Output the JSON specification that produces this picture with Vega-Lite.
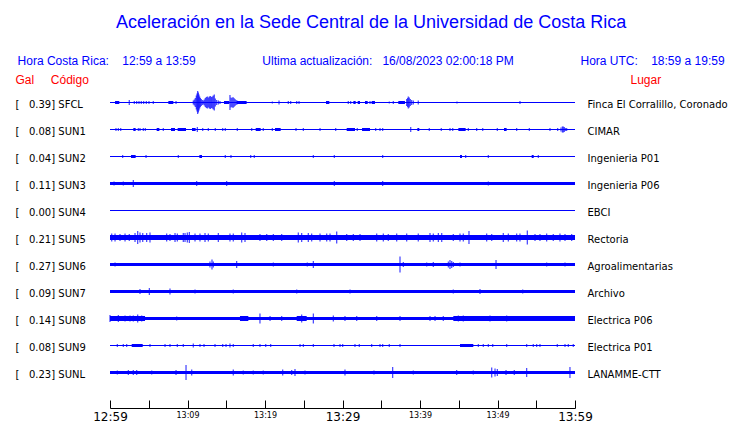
{
  "$schema": "https://vega.github.io/schema/vega-lite/v6.json",
  "width": 465,
  "height": 297,
  "padding": {"left": 15, "top": 14, "right": 5, "bottom": 5},
  "background": "white",
  "title": {
    "text": "Aceleración en la Sede Central de la Universidad de Costa Rica",
    "subtitle": "Hora Costa Rica:\u00a0\u00a0\u00a0\u00a012:59 a 13:59\u00a0\u00a0\u00a0\u00a0\u00a0\u00a0\u00a0\u00a0\u00a0\u00a0\u00a0\u00a0\u00a0\u00a0\u00a0\u00a0\u00a0\u00a0\u00a0\u00a0Ultima actualización:\u00a0\u00a0\u00a016/08/2023 02:00:18 PM\u00a0\u00a0\u00a0\u00a0\u00a0\u00a0\u00a0\u00a0\u00a0\u00a0\u00a0\u00a0\u00a0\u00a0\u00a0\u00a0\u00a0\u00a0\u00a0\u00a0Hora UTC:\u00a0\u00a0\u00a0\u00a018:59 a 19:59\u00a0\u00a0\u00a0\u00a0",
    "anchor": "middle",
    "frame": "bounds",
    "font": "Liberation Sans",
    "fontSize": 18,
    "fontWeight": "normal",
    "color": "#0000ff",
    "subtitleFont": "Liberation Sans",
    "subtitleFontSize": 12,
    "subtitleColor": "#0000ff",
    "subtitlePadding": 24,
    "offset": 6
  },
  "datasets": {
    "stations": [
      {"code": "SFCL", "label": "[\u00a0\u00a0\u00a00.39] SFCL", "lugar": "Finca El Corralillo, Coronado", "w": 1},
      {"code": "SUN1", "label": "[\u00a0\u00a0\u00a00.08] SUN1", "lugar": "CIMAR", "w": 1},
      {"code": "SUN2", "label": "[\u00a0\u00a0\u00a00.04] SUN2", "lugar": "Ingenieria P01", "w": 1},
      {"code": "SUN3", "label": "[\u00a0\u00a0\u00a00.11] SUN3", "lugar": "Ingenieria P06", "w": 3},
      {"code": "SUN4", "label": "[\u00a0\u00a0\u00a00.00] SUN4", "lugar": "EBCI", "w": 1},
      {"code": "SUN5", "label": "[\u00a0\u00a0\u00a00.21] SUN5", "lugar": "Rectoria", "w": 5},
      {"code": "SUN6", "label": "[\u00a0\u00a0\u00a00.27] SUN6", "lugar": "Agroalimentarias", "w": 3},
      {"code": "SUN7", "label": "[\u00a0\u00a0\u00a00.09] SUN7", "lugar": "Archivo", "w": 3},
      {"code": "SUN8", "label": "[\u00a0\u00a0\u00a00.14] SUN8", "lugar": "Electrica P06", "w": 3},
      {"code": "SUN9", "label": "[\u00a0\u00a0\u00a00.08] SUN9", "lugar": "Electrica P01", "w": 1},
      {"code": "SUNL", "label": "[\u00a0\u00a0\u00a00.23] SUNL", "lugar": "LANAMME-CTT", "w": 3}
    ],
    "segs": [
      {"code": "SFCL", "t0": 0.65, "t1": 1.2, "w": 3},
      {"code": "SFCL", "t0": 7.53, "t1": 8.17, "w": 3},
      {"code": "SFCL", "t0": 14.71, "t1": 15.4, "w": 3},
      {"code": "SFCL", "t0": 16.34, "t1": 17.63, "w": 3},
      {"code": "SFCL", "t0": 27.87, "t1": 28.3, "w": 3},
      {"code": "SFCL", "t0": 31.4, "t1": 31.7, "w": 3},
      {"code": "SFCL", "t0": 31.96, "t1": 32.26, "w": 3},
      {"code": "SFCL", "t0": 32.9, "t1": 33.25, "w": 3},
      {"code": "SFCL", "t0": 33.76, "t1": 34.19, "w": 3},
      {"code": "SFCL", "t0": 37.2, "t1": 38.06, "w": 3},
      {"code": "SUN1", "t0": 3.01, "t1": 3.31, "w": 3},
      {"code": "SUN1", "t0": 6.02, "t1": 6.37, "w": 3},
      {"code": "SUN1", "t0": 7.87, "t1": 8.39, "w": 3},
      {"code": "SUN1", "t0": 8.73, "t1": 9.81, "w": 3},
      {"code": "SUN1", "t0": 10.58, "t1": 11.05, "w": 3},
      {"code": "SUN1", "t0": 18.8, "t1": 19.44, "w": 3},
      {"code": "SUN1", "t0": 21.29, "t1": 22.02, "w": 3},
      {"code": "SUN1", "t0": 30.54, "t1": 31.61, "w": 3},
      {"code": "SUN1", "t0": 32.52, "t1": 33.55, "w": 3},
      {"code": "SUN1", "t0": 39.66, "t1": 39.91, "w": 3},
      {"code": "SUN1", "t0": 44.95, "t1": 45.89, "w": 3},
      {"code": "SUN1", "t0": 50.84, "t1": 51.18, "w": 3},
      {"code": "SUN2", "t0": 2.71, "t1": 3.31, "w": 3},
      {"code": "SUN2", "t0": 11.53, "t1": 11.87, "w": 3},
      {"code": "SUN2", "t0": 45.16, "t1": 45.42, "w": 3},
      {"code": "SUN2", "t0": 54.41, "t1": 54.67, "w": 3},
      {"code": "SUN8", "t0": 0, "t1": 4.52, "w": 5},
      {"code": "SUN8", "t0": 16.77, "t1": 17.85, "w": 5},
      {"code": "SUN8", "t0": 24.09, "t1": 25.38, "w": 5},
      {"code": "SUN8", "t0": 44.3, "t1": 60, "w": 5},
      {"code": "SUN9", "t0": 2.8, "t1": 4.22, "w": 3},
      {"code": "SUN9", "t0": 45.16, "t1": 46.88, "w": 3}
    ],
    "spikes": [
      {"code": "SFCL", "t": 2.49, "amp": 5}, {"code": "SFCL", "t": 3.14, "amp": 3}, {"code": "SFCL", "t": 3.44, "amp": 3}, {"code": "SFCL", "t": 3.74, "amp": 3},
      {"code": "SFCL", "t": 4.04, "amp": 3}, {"code": "SFCL", "t": 4.34, "amp": 3}, {"code": "SFCL", "t": 4.69, "amp": 3}, {"code": "SFCL", "t": 5.03, "amp": 3},
      {"code": "SFCL", "t": 5.59, "amp": 3}, {"code": "SFCL", "t": 8.52, "amp": 3},
      {"code": "SFCL", "t": 10.75, "amp": 4}, {"code": "SFCL", "t": 10.88, "amp": 6}, {"code": "SFCL", "t": 11.01, "amp": 9}, {"code": "SFCL", "t": 11.14, "amp": 14},
      {"code": "SFCL", "t": 11.23, "amp": 18}, {"code": "SFCL", "t": 11.31, "amp": 23}, {"code": "SFCL", "t": 11.4, "amp": 20}, {"code": "SFCL", "t": 11.48, "amp": 16},
      {"code": "SFCL", "t": 11.57, "amp": 12}, {"code": "SFCL", "t": 11.66, "amp": 9}, {"code": "SFCL", "t": 11.78, "amp": 7}, {"code": "SFCL", "t": 11.91, "amp": 5},
      {"code": "SFCL", "t": 12.04, "amp": 4}, {"code": "SFCL", "t": 12.17, "amp": 6}, {"code": "SFCL", "t": 12.3, "amp": 9}, {"code": "SFCL", "t": 12.43, "amp": 11},
      {"code": "SFCL", "t": 12.56, "amp": 12}, {"code": "SFCL", "t": 12.69, "amp": 10}, {"code": "SFCL", "t": 12.82, "amp": 12}, {"code": "SFCL", "t": 12.95, "amp": 13},
      {"code": "SFCL", "t": 13.08, "amp": 11}, {"code": "SFCL", "t": 13.2, "amp": 12}, {"code": "SFCL", "t": 13.33, "amp": 14}, {"code": "SFCL", "t": 13.46, "amp": 16},
      {"code": "SFCL", "t": 13.59, "amp": 8}, {"code": "SFCL", "t": 13.76, "amp": 5}, {"code": "SFCL", "t": 13.98, "amp": 4}, {"code": "SFCL", "t": 14.19, "amp": 3},
      {"code": "SFCL", "t": 15.48, "amp": 15}, {"code": "SFCL", "t": 15.61, "amp": 10}, {"code": "SFCL", "t": 15.74, "amp": 9}, {"code": "SFCL", "t": 15.87, "amp": 11},
      {"code": "SFCL", "t": 16.0, "amp": 9}, {"code": "SFCL", "t": 16.13, "amp": 7}, {"code": "SFCL", "t": 16.26, "amp": 5}, {"code": "SFCL", "t": 16.39, "amp": 4},
      {"code": "SFCL", "t": 20.95, "amp": 2}, {"code": "SFCL", "t": 21.81, "amp": 4}, {"code": "SFCL", "t": 23.01, "amp": 3}, {"code": "SFCL", "t": 23.31, "amp": 3},
      {"code": "SFCL", "t": 24.09, "amp": 3}, {"code": "SFCL", "t": 24.39, "amp": 3}, {"code": "SFCL", "t": 30.75, "amp": 3}, {"code": "SFCL", "t": 31.05, "amp": 3},
      {"code": "SFCL", "t": 33.55, "amp": 3}, {"code": "SFCL", "t": 36.04, "amp": 2}, {"code": "SFCL", "t": 36.56, "amp": 3}, {"code": "SFCL", "t": 38.28, "amp": 7},
      {"code": "SFCL", "t": 38.41, "amp": 9}, {"code": "SFCL", "t": 38.49, "amp": 12}, {"code": "SFCL", "t": 38.62, "amp": 10}, {"code": "SFCL", "t": 38.75, "amp": 7},
      {"code": "SFCL", "t": 38.92, "amp": 5}, {"code": "SFCL", "t": 39.14, "amp": 4}, {"code": "SFCL", "t": 39.78, "amp": 4}, {"code": "SFCL", "t": 44.77, "amp": 2},
      {"code": "SFCL", "t": 52.9, "amp": 3},
      {"code": "SUN1", "t": 0.77, "amp": 3}, {"code": "SUN1", "t": 1.08, "amp": 3}, {"code": "SUN1", "t": 1.38, "amp": 3}, {"code": "SUN1", "t": 3.66, "amp": 3},
      {"code": "SUN1", "t": 3.87, "amp": 3}, {"code": "SUN1", "t": 4.3, "amp": 3}, {"code": "SUN1", "t": 4.56, "amp": 3}, {"code": "SUN1", "t": 6.88, "amp": 3},
      {"code": "SUN1", "t": 11.27, "amp": 5}, {"code": "SUN1", "t": 11.96, "amp": 3}, {"code": "SUN1", "t": 12.69, "amp": 3}, {"code": "SUN1", "t": 13.59, "amp": 3},
      {"code": "SUN1", "t": 14.54, "amp": 3}, {"code": "SUN1", "t": 14.88, "amp": 3}, {"code": "SUN1", "t": 16.43, "amp": 3}, {"code": "SUN1", "t": 18.28, "amp": 3},
      {"code": "SUN1", "t": 19.78, "amp": 3}, {"code": "SUN1", "t": 20.95, "amp": 3}, {"code": "SUN1", "t": 24.0, "amp": 3}, {"code": "SUN1", "t": 24.95, "amp": 3},
      {"code": "SUN1", "t": 27.1, "amp": 3}, {"code": "SUN1", "t": 29.12, "amp": 3}, {"code": "SUN1", "t": 31.91, "amp": 3}, {"code": "SUN1", "t": 34.28, "amp": 3},
      {"code": "SUN1", "t": 34.84, "amp": 3}, {"code": "SUN1", "t": 35.18, "amp": 3}, {"code": "SUN1", "t": 38.8, "amp": 5}, {"code": "SUN1", "t": 41.2, "amp": 3},
      {"code": "SUN1", "t": 42.75, "amp": 3}, {"code": "SUN1", "t": 43.87, "amp": 3}, {"code": "SUN1", "t": 44.22, "amp": 3}, {"code": "SUN1", "t": 46.24, "amp": 3},
      {"code": "SUN1", "t": 47.31, "amp": 3}, {"code": "SUN1", "t": 48.09, "amp": 3}, {"code": "SUN1", "t": 49.98, "amp": 3}, {"code": "SUN1", "t": 52.47, "amp": 3},
      {"code": "SUN1", "t": 54.11, "amp": 3}, {"code": "SUN1", "t": 56.77, "amp": 3}, {"code": "SUN1", "t": 57.76, "amp": 3}, {"code": "SUN1", "t": 58.19, "amp": 4},
      {"code": "SUN1", "t": 58.37, "amp": 6}, {"code": "SUN1", "t": 58.49, "amp": 6}, {"code": "SUN1", "t": 58.62, "amp": 5}, {"code": "SUN1", "t": 58.75, "amp": 3},
      {"code": "SUN1", "t": 58.92, "amp": 3},
      {"code": "SUN2", "t": 1.63, "amp": 3}, {"code": "SUN2", "t": 4.65, "amp": 3}, {"code": "SUN2", "t": 8.82, "amp": 3}, {"code": "SUN2", "t": 14.88, "amp": 3},
      {"code": "SUN2", "t": 15.61, "amp": 3}, {"code": "SUN2", "t": 18.15, "amp": 3}, {"code": "SUN2", "t": 18.62, "amp": 3}, {"code": "SUN2", "t": 26.24, "amp": 3},
      {"code": "SUN2", "t": 28.95, "amp": 3}, {"code": "SUN2", "t": 35.18, "amp": 3}, {"code": "SUN2", "t": 45.89, "amp": 3}, {"code": "SUN2", "t": 48.82, "amp": 3},
      {"code": "SUN2", "t": 55.27, "amp": 3},
      {"code": "SUN3", "t": 0.52, "amp": 4}, {"code": "SUN3", "t": 1.72, "amp": 4}, {"code": "SUN3", "t": 3.01, "amp": 7}, {"code": "SUN3", "t": 11.18, "amp": 5},
      {"code": "SUN3", "t": 15.05, "amp": 5}, {"code": "SUN3", "t": 28.95, "amp": 5}, {"code": "SUN3", "t": 35.18, "amp": 5}, {"code": "SUN3", "t": 48.82, "amp": 4},
      {"code": "SUN5", "t": 0.22, "amp": 8}, {"code": "SUN5", "t": 0.65, "amp": 8}, {"code": "SUN5", "t": 1.29, "amp": 7}, {"code": "SUN5", "t": 1.94, "amp": 8},
      {"code": "SUN5", "t": 2.49, "amp": 7}, {"code": "SUN5", "t": 3.23, "amp": 9}, {"code": "SUN5", "t": 3.57, "amp": 13}, {"code": "SUN5", "t": 3.87, "amp": 10},
      {"code": "SUN5", "t": 4.22, "amp": 9}, {"code": "SUN5", "t": 4.73, "amp": 9}, {"code": "SUN5", "t": 5.16, "amp": 10}, {"code": "SUN5", "t": 7.31, "amp": 8},
      {"code": "SUN5", "t": 7.74, "amp": 7}, {"code": "SUN5", "t": 8.39, "amp": 9}, {"code": "SUN5", "t": 8.69, "amp": 8}, {"code": "SUN5", "t": 9.46, "amp": 9},
      {"code": "SUN5", "t": 9.68, "amp": 9}, {"code": "SUN5", "t": 9.98, "amp": 10}, {"code": "SUN5", "t": 10.24, "amp": 11}, {"code": "SUN5", "t": 10.97, "amp": 8},
      {"code": "SUN5", "t": 11.61, "amp": 8}, {"code": "SUN5", "t": 12.26, "amp": 9}, {"code": "SUN5", "t": 12.69, "amp": 8}, {"code": "SUN5", "t": 13.98, "amp": 9},
      {"code": "SUN5", "t": 15.48, "amp": 8}, {"code": "SUN5", "t": 15.91, "amp": 8}, {"code": "SUN5", "t": 16.99, "amp": 10}, {"code": "SUN5", "t": 17.42, "amp": 9},
      {"code": "SUN5", "t": 19.35, "amp": 7}, {"code": "SUN5", "t": 20.22, "amp": 7}, {"code": "SUN5", "t": 21.08, "amp": 7}, {"code": "SUN5", "t": 22.15, "amp": 7},
      {"code": "SUN5", "t": 24.3, "amp": 10}, {"code": "SUN5", "t": 24.73, "amp": 9}, {"code": "SUN5", "t": 25.59, "amp": 9}, {"code": "SUN5", "t": 26.02, "amp": 8},
      {"code": "SUN5", "t": 27.1, "amp": 8}, {"code": "SUN5", "t": 27.96, "amp": 8}, {"code": "SUN5", "t": 28.39, "amp": 8}, {"code": "SUN5", "t": 29.25, "amp": 12},
      {"code": "SUN5", "t": 30.54, "amp": 7}, {"code": "SUN5", "t": 31.4, "amp": 7}, {"code": "SUN5", "t": 32.26, "amp": 7}, {"code": "SUN5", "t": 34.41, "amp": 8},
      {"code": "SUN5", "t": 35.27, "amp": 8}, {"code": "SUN5", "t": 35.91, "amp": 7}, {"code": "SUN5", "t": 36.99, "amp": 8}, {"code": "SUN5", "t": 38.28, "amp": 8},
      {"code": "SUN5", "t": 39.78, "amp": 8}, {"code": "SUN5", "t": 41.29, "amp": 9}, {"code": "SUN5", "t": 41.72, "amp": 8}, {"code": "SUN5", "t": 42.37, "amp": 9},
      {"code": "SUN5", "t": 42.8, "amp": 9}, {"code": "SUN5", "t": 44.3, "amp": 7}, {"code": "SUN5", "t": 45.16, "amp": 8}, {"code": "SUN5", "t": 45.59, "amp": 8},
      {"code": "SUN5", "t": 46.32, "amp": 13}, {"code": "SUN5", "t": 48.6, "amp": 8}, {"code": "SUN5", "t": 49.25, "amp": 7}, {"code": "SUN5", "t": 50.75, "amp": 9},
      {"code": "SUN5", "t": 51.4, "amp": 8}, {"code": "SUN5", "t": 52.47, "amp": 8}, {"code": "SUN5", "t": 52.9, "amp": 8}, {"code": "SUN5", "t": 53.85, "amp": 14},
      {"code": "SUN5", "t": 54.84, "amp": 7}, {"code": "SUN5", "t": 55.48, "amp": 7}, {"code": "SUN5", "t": 56.34, "amp": 8}, {"code": "SUN5", "t": 57.2, "amp": 7},
      {"code": "SUN5", "t": 58.06, "amp": 8}, {"code": "SUN5", "t": 58.71, "amp": 7}, {"code": "SUN5", "t": 59.57, "amp": 7},
      {"code": "SUN6", "t": 0.65, "amp": 4}, {"code": "SUN6", "t": 9.46, "amp": 3}, {"code": "SUN6", "t": 12.9, "amp": 6}, {"code": "SUN6", "t": 13.16, "amp": 10},
      {"code": "SUN6", "t": 13.33, "amp": 6}, {"code": "SUN6", "t": 16.34, "amp": 7}, {"code": "SUN6", "t": 21.08, "amp": 4}, {"code": "SUN6", "t": 21.72, "amp": 3},
      {"code": "SUN6", "t": 25.46, "amp": 4}, {"code": "SUN6", "t": 26.24, "amp": 7}, {"code": "SUN6", "t": 37.42, "amp": 16}, {"code": "SUN6", "t": 37.85, "amp": 5},
      {"code": "SUN6", "t": 40.86, "amp": 4}, {"code": "SUN6", "t": 41.72, "amp": 5}, {"code": "SUN6", "t": 43.66, "amp": 6}, {"code": "SUN6", "t": 43.87, "amp": 9},
      {"code": "SUN6", "t": 44.09, "amp": 7}, {"code": "SUN6", "t": 44.3, "amp": 5}, {"code": "SUN6", "t": 45.16, "amp": 4}, {"code": "SUN6", "t": 49.81, "amp": 9},
      {"code": "SUN6", "t": 56.34, "amp": 4}, {"code": "SUN6", "t": 58.71, "amp": 4}, {"code": "SUN6", "t": 59.57, "amp": 3},
      {"code": "SUN7", "t": 3.87, "amp": 5}, {"code": "SUN7", "t": 4.65, "amp": 3}, {"code": "SUN7", "t": 5.08, "amp": 7}, {"code": "SUN7", "t": 7.74, "amp": 6},
      {"code": "SUN7", "t": 10.97, "amp": 4}, {"code": "SUN7", "t": 15.91, "amp": 4}, {"code": "SUN7", "t": 18.49, "amp": 3}, {"code": "SUN7", "t": 18.92, "amp": 3},
      {"code": "SUN7", "t": 24.09, "amp": 4}, {"code": "SUN7", "t": 25.16, "amp": 3}, {"code": "SUN7", "t": 30.97, "amp": 4}, {"code": "SUN7", "t": 33.63, "amp": 3},
      {"code": "SUN7", "t": 34.19, "amp": 3}, {"code": "SUN7", "t": 44.3, "amp": 4}, {"code": "SUN7", "t": 47.74, "amp": 5}, {"code": "SUN7", "t": 48.17, "amp": 3},
      {"code": "SUN7", "t": 53.25, "amp": 4}, {"code": "SUN7", "t": 58.06, "amp": 3},
      {"code": "SUN8", "t": 0.0, "amp": 7}, {"code": "SUN8", "t": 1.08, "amp": 7}, {"code": "SUN8", "t": 1.94, "amp": 6}, {"code": "SUN8", "t": 2.58, "amp": 6},
      {"code": "SUN8", "t": 3.01, "amp": 6}, {"code": "SUN8", "t": 3.57, "amp": 8}, {"code": "SUN8", "t": 4.09, "amp": 6}, {"code": "SUN8", "t": 8.6, "amp": 4},
      {"code": "SUN8", "t": 19.35, "amp": 10}, {"code": "SUN8", "t": 20.65, "amp": 5}, {"code": "SUN8", "t": 22.15, "amp": 5}, {"code": "SUN8", "t": 24.73, "amp": 8},
      {"code": "SUN8", "t": 26.24, "amp": 10}, {"code": "SUN8", "t": 28.82, "amp": 6}, {"code": "SUN8", "t": 30.32, "amp": 5}, {"code": "SUN8", "t": 31.83, "amp": 5},
      {"code": "SUN8", "t": 34.41, "amp": 5}, {"code": "SUN8", "t": 37.42, "amp": 5}, {"code": "SUN8", "t": 41.29, "amp": 5}, {"code": "SUN8", "t": 41.94, "amp": 5},
      {"code": "SUN8", "t": 43.01, "amp": 5}, {"code": "SUN8", "t": 44.95, "amp": 6}, {"code": "SUN8", "t": 45.59, "amp": 6}, {"code": "SUN8", "t": 49.03, "amp": 6},
      {"code": "SUN8", "t": 51.18, "amp": 6}, {"code": "SUN8", "t": 52.9, "amp": 5}, {"code": "SUN8", "t": 54.62, "amp": 5}, {"code": "SUN8", "t": 56.56, "amp": 5},
      {"code": "SUN8", "t": 59.35, "amp": 5},
      {"code": "SUN9", "t": 0.95, "amp": 3}, {"code": "SUN9", "t": 1.72, "amp": 3}, {"code": "SUN9", "t": 2.15, "amp": 3}, {"code": "SUN9", "t": 5.16, "amp": 3},
      {"code": "SUN9", "t": 7.1, "amp": 3}, {"code": "SUN9", "t": 7.74, "amp": 3}, {"code": "SUN9", "t": 8.69, "amp": 3}, {"code": "SUN9", "t": 9.46, "amp": 3},
      {"code": "SUN9", "t": 10.75, "amp": 4}, {"code": "SUN9", "t": 11.61, "amp": 3}, {"code": "SUN9", "t": 12.13, "amp": 3}, {"code": "SUN9", "t": 13.55, "amp": 3},
      {"code": "SUN9", "t": 14.54, "amp": 3}, {"code": "SUN9", "t": 14.97, "amp": 3}, {"code": "SUN9", "t": 15.48, "amp": 4}, {"code": "SUN9", "t": 15.91, "amp": 3},
      {"code": "SUN9", "t": 18.49, "amp": 3}, {"code": "SUN9", "t": 19.35, "amp": 3}, {"code": "SUN9", "t": 20.09, "amp": 3}, {"code": "SUN9", "t": 20.73, "amp": 3},
      {"code": "SUN9", "t": 24.52, "amp": 3}, {"code": "SUN9", "t": 24.95, "amp": 3}, {"code": "SUN9", "t": 26.24, "amp": 3}, {"code": "SUN9", "t": 28.9, "amp": 3},
      {"code": "SUN9", "t": 29.68, "amp": 3}, {"code": "SUN9", "t": 30.02, "amp": 3}, {"code": "SUN9", "t": 31.61, "amp": 3}, {"code": "SUN9", "t": 32.17, "amp": 3},
      {"code": "SUN9", "t": 33.76, "amp": 3}, {"code": "SUN9", "t": 34.84, "amp": 3}, {"code": "SUN9", "t": 35.18, "amp": 3}, {"code": "SUN9", "t": 36.04, "amp": 3},
      {"code": "SUN9", "t": 37.42, "amp": 3}, {"code": "SUN9", "t": 47.53, "amp": 3}, {"code": "SUN9", "t": 48.17, "amp": 3}, {"code": "SUN9", "t": 48.82, "amp": 3},
      {"code": "SUN9", "t": 49.38, "amp": 3}, {"code": "SUN9", "t": 51.18, "amp": 3}, {"code": "SUN9", "t": 53.76, "amp": 3}, {"code": "SUN9", "t": 54.62, "amp": 3},
      {"code": "SUN9", "t": 55.05, "amp": 3}, {"code": "SUN9", "t": 55.48, "amp": 3}, {"code": "SUN9", "t": 57.72, "amp": 3}, {"code": "SUN9", "t": 58.71, "amp": 3},
      {"code": "SUN9", "t": 59.14, "amp": 3}, {"code": "SUN9", "t": 59.78, "amp": 3},
      {"code": "SUNL", "t": 0.95, "amp": 4}, {"code": "SUNL", "t": 2.37, "amp": 5}, {"code": "SUNL", "t": 3.01, "amp": 5}, {"code": "SUNL", "t": 3.44, "amp": 5},
      {"code": "SUNL", "t": 5.38, "amp": 4}, {"code": "SUNL", "t": 6.24, "amp": 3}, {"code": "SUNL", "t": 8.52, "amp": 5}, {"code": "SUNL", "t": 9.81, "amp": 15},
      {"code": "SUNL", "t": 10.54, "amp": 6}, {"code": "SUNL", "t": 15.91, "amp": 6}, {"code": "SUNL", "t": 17.2, "amp": 4}, {"code": "SUNL", "t": 18.49, "amp": 4},
      {"code": "SUNL", "t": 19.78, "amp": 4}, {"code": "SUNL", "t": 22.28, "amp": 6}, {"code": "SUNL", "t": 23.44, "amp": 5}, {"code": "SUNL", "t": 23.87, "amp": 7},
      {"code": "SUNL", "t": 25.16, "amp": 4}, {"code": "SUNL", "t": 30.32, "amp": 6}, {"code": "SUNL", "t": 31.4, "amp": 3}, {"code": "SUNL", "t": 34.06, "amp": 4},
      {"code": "SUNL", "t": 36.47, "amp": 11}, {"code": "SUNL", "t": 39.14, "amp": 4}, {"code": "SUNL", "t": 44.73, "amp": 5}, {"code": "SUNL", "t": 46.88, "amp": 4},
      {"code": "SUNL", "t": 49.25, "amp": 10}, {"code": "SUNL", "t": 49.68, "amp": 8}, {"code": "SUNL", "t": 49.98, "amp": 7}, {"code": "SUNL", "t": 51.1, "amp": 5},
      {"code": "SUNL", "t": 52.17, "amp": 5}, {"code": "SUNL", "t": 53.76, "amp": 9}, {"code": "SUNL", "t": 59.35, "amp": 11}, {"code": "SUNL", "t": 59.78, "amp": 3}
    ]
  },
  "layer": [
    {
      "data": {"name": "stations"},
      "mark": {"type": "rule", "color": "#0000ff"},
      "encoding": {
        "x": {"datum": 0, "type": "quantitative", "scale": {"domain": [0, 60], "nice": false, "zero": false},
          "axis": {
            "values": [0, 5, 10, 15, 20, 25, 30, 35, 40, 45, 50, 55, 60],
            "labelExpr": "datum.value % 10 != 0 ? '' : (datum.value == 0 ? '12:59' : '13:' + (datum.value < 11 ? '0' : '') + (datum.value - 1))",
            "title": null, "grid": false, "offset": 22,
            "tickSize": -8, "tickColor": "black", "tickWidth": 1,
            "domainColor": "black", "domainWidth": 1,
            "labelPadding": 11, "labelBaseline": "top",
            "labelFont": "DejaVu Sans", "labelColor": "black",
            "labelFontSize": {"expr": "datum.value % 30 == 0 ? 12 : 8"},
            "labelOverlap": false, "labelFlush": false
          }},
        "x2": {"datum": 60},
        "y": {
          "field": "label", "type": "ordinal",
          "scale": {"type": "point", "padding": 0.5, "domain": ["[\u00a0\u00a0\u00a00.39] SFCL", "[\u00a0\u00a0\u00a00.08] SUN1", "[\u00a0\u00a0\u00a00.04] SUN2", "[\u00a0\u00a0\u00a00.11] SUN3", "[\u00a0\u00a0\u00a00.00] SUN4", "[\u00a0\u00a0\u00a00.21] SUN5", "[\u00a0\u00a0\u00a00.27] SUN6", "[\u00a0\u00a0\u00a00.09] SUN7", "[\u00a0\u00a0\u00a00.14] SUN8", "[\u00a0\u00a0\u00a00.08] SUN9", "[\u00a0\u00a0\u00a00.23] SUNL"]},
          "axis": {
            "orient": "left", "ticks": false, "domain": false, "grid": false,
            "labelAlign": "left", "labelPadding": 95, "labelBaseline": "alphabetic", "labelOffset": 5,
            "labelFont": "DejaVu Sans", "labelFontSize": 10, "labelColor": "black", "labelLimit": 300,
            "title": "Gal\u00a0\u00a0\u00a0\u00a0\u00a0Código", "titleAngle": 0, "titleAlign": "left", "titleBaseline": "alphabetic",
            "titleX": -95, "titleY": -6, "titleColor": "#ff0000", "titleFont": "Liberation Sans", "titleFontSize": 12, "titleFontWeight": "normal"
          }
        },
        "strokeWidth": {"field": "w", "type": "quantitative", "scale": {"domain": [0, 10], "range": [0, 10], "zero": true}, "legend": null}
      }
    },
    {
      "data": {"name": "stations"},
      "mark": {"type": "rule", "color": "#0000ff"},
      "encoding": {
        "x": {"datum": 0, "type": "quantitative",
          "axis": {
            "values": [0, 5, 10, 15, 20, 25, 30, 35, 40, 45, 50, 55, 60],
            "labelExpr": "datum.value % 10 != 0 ? '' : (datum.value == 0 ? '12:59' : '13:' + (datum.value < 11 ? '0' : '') + (datum.value - 1))",
            "title": null, "grid": false, "offset": 22,
            "tickSize": -8, "tickColor": "black", "tickWidth": 1,
            "domainColor": "black", "domainWidth": 1,
            "labelPadding": 11, "labelBaseline": "top",
            "labelFont": "DejaVu Sans", "labelColor": "black",
            "labelFontSize": {"expr": "datum.value % 30 == 0 ? 12 : 8"},
            "labelOverlap": false, "labelFlush": false
          }},
        "x2": {"datum": 60},
        "y": {
          "field": "lugar", "type": "ordinal",
          "scale": {"type": "point", "padding": 0.5, "domain": ["Finca El Corralillo, Coronado", "CIMAR", "Ingenieria P01", "Ingenieria P06", "EBCI", "Rectoria", "Agroalimentarias", "Archivo", "Electrica P06", "Electrica P01", "LANAMME-CTT"]},
          "axis": {
            "orient": "right", "ticks": false, "domain": false, "grid": false,
            "labelAlign": "left", "labelPadding": 12, "labelBaseline": "alphabetic", "labelOffset": 5,
            "labelFont": "DejaVu Sans", "labelFontSize": 10, "labelColor": "black", "labelLimit": 300,
            "title": "Lugar", "titleAngle": 0, "titleAlign": "left", "titleBaseline": "alphabetic",
            "titleX": 55, "titleY": -6, "titleColor": "#ff0000", "titleFont": "Liberation Sans", "titleFontSize": 12, "titleFontWeight": "normal"
          }
        },
        "strokeWidth": {"field": "w", "type": "quantitative", "legend": null}
      }
    },
    {
      "data": {"name": "segs"},
      "mark": {"type": "rule", "color": "#0000ff"},
      "encoding": {
        "x": {"field": "t0", "type": "quantitative",
          "axis": {
            "values": [0, 5, 10, 15, 20, 25, 30, 35, 40, 45, 50, 55, 60],
            "labelExpr": "datum.value % 10 != 0 ? '' : (datum.value == 0 ? '12:59' : '13:' + (datum.value < 11 ? '0' : '') + (datum.value - 1))",
            "title": null, "grid": false, "offset": 22,
            "tickSize": -8, "tickColor": "black", "tickWidth": 1,
            "domainColor": "black", "domainWidth": 1,
            "labelPadding": 11, "labelBaseline": "top",
            "labelFont": "DejaVu Sans", "labelColor": "black",
            "labelFontSize": {"expr": "datum.value % 30 == 0 ? 12 : 8"},
            "labelOverlap": false, "labelFlush": false
          }},
        "x2": {"field": "t1"},
        "y": {"field": "code", "type": "ordinal", "axis": null,
          "scale": {"type": "point", "padding": 0.5, "domain": ["SFCL", "SUN1", "SUN2", "SUN3", "SUN4", "SUN5", "SUN6", "SUN7", "SUN8", "SUN9", "SUNL"]}},
        "strokeWidth": {"field": "w", "type": "quantitative", "legend": null}
      }
    },
    {
      "data": {"name": "spikes"},
      "mark": {"type": "tick", "color": "#0000ff", "thickness": 1.3, "orient": "vertical"},
      "encoding": {
        "x": {
          "field": "t", "type": "quantitative",
          "axis": {
            "values": [0, 5, 10, 15, 20, 25, 30, 35, 40, 45, 50, 55, 60],
            "labelExpr": "datum.value % 10 != 0 ? '' : (datum.value == 0 ? '12:59' : '13:' + (datum.value < 11 ? '0' : '') + (datum.value - 1))",
            "title": null, "grid": false, "offset": 22,
            "tickSize": -8, "tickColor": "black", "tickWidth": 1,
            "domainColor": "black", "domainWidth": 1,
            "labelPadding": 11, "labelBaseline": "top",
            "labelFont": "DejaVu Sans", "labelColor": "black",
            "labelFontSize": {"expr": "datum.value % 30 == 0 ? 12 : 8"},
            "labelOverlap": false, "labelFlush": false
          }
        },
        "y": {"field": "code", "type": "ordinal", "axis": null,
          "scale": {"type": "point", "padding": 0.5, "domain": ["SFCL", "SUN1", "SUN2", "SUN3", "SUN4", "SUN5", "SUN6", "SUN7", "SUN8", "SUN9", "SUNL"]}},
        "size": {"field": "amp", "type": "quantitative", "scale": {"type": "linear", "domain": [0, 30], "range": [0, 30], "zero": true}, "legend": null}
      }
    }
  ],
  "resolve": {"scale": {"y": "independent"}},
  "config": {
    "view": {"stroke": null},
    "axis": {"grid": false}
  }
}
